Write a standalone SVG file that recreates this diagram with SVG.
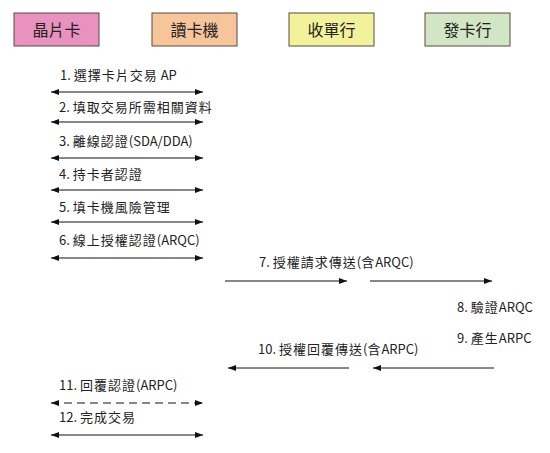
<svg xmlns="http://www.w3.org/2000/svg" width="550" height="453" viewBox="0 0 550 453">
<defs>
<marker id="ah" viewBox="0 0 8 6" refX="8" refY="3" markerWidth="8" markerHeight="6" markerUnits="userSpaceOnUse" orient="auto-start-reverse">
<path d="M0,0 L8,3 L0,6 Z" fill="#111"/>
</marker>
</defs>
<style>
.box{stroke:#5a4a40;stroke-width:1}
.hd{font-family:"Noto Sans CJK TC","Noto Sans",sans-serif;font-size:16px;fill:#222;text-anchor:middle}
.lb{font-family:"Noto Sans CJK TC","Noto Sans",sans-serif;font-size:13px;fill:#222}
.c{letter-spacing:1px}
.ln{stroke:#111;stroke-width:1;fill:none}
.bi{marker-start:url(#ah);marker-end:url(#ah)}
.fw{marker-end:url(#ah)}
.dash{stroke-dasharray:8,5}
</style>
<rect width="550" height="453" fill="#fff"/>
<g id="card"><rect class="box" x="14" y="13" width="85" height="33" fill="#E991BF"/><text class="hd" x="56.5" y="35.5">晶片卡</text></g>
<g id="reader"><rect class="box" x="152" y="13" width="85" height="33" fill="#F6C59A"/><text class="hd" x="194.5" y="35.5">讀卡機</text></g>
<g id="acquirer"><rect class="box" x="289" y="13" width="85" height="33" fill="#F2F29B"/><text class="hd" x="331.5" y="35.5">收單行</text></g>
<g id="issuer"><rect class="box" x="425" y="13" width="85" height="33" fill="#D0E6C4"/><text class="hd" x="467.5" y="35.5">發卡行</text></g>
<g id="connectors">
<line class="ln bi" x1="51" y1="92" x2="203" y2="92"/>
<line class="ln bi" x1="51" y1="122" x2="203" y2="122"/>
<line class="ln bi" x1="51" y1="158" x2="203" y2="158"/>
<line class="ln bi" x1="51" y1="190" x2="203" y2="190"/>
<line class="ln bi" x1="51" y1="222" x2="203" y2="222"/>
<line class="ln bi" x1="51" y1="258" x2="203" y2="258"/>
<line class="ln fw" x1="225" y1="281" x2="347" y2="281"/>
<line class="ln fw" x1="370" y1="281" x2="492" y2="281"/>
<line class="ln fw" x1="349" y1="368" x2="228" y2="368"/>
<line class="ln fw" x1="494" y1="368" x2="373" y2="368"/>
<line class="ln bi dash" x1="51" y1="403" x2="203" y2="403"/>
<line class="ln bi" x1="51" y1="435" x2="203" y2="435"/>
</g>
<g id="labels">
<text class="lb" x="60" y="80">1. <tspan class="c">選擇卡片交易</tspan> AP</text>
<text class="lb" x="59" y="112">2. <tspan class="c">填取交易所需相關資料</tspan></text>
<text class="lb" x="59" y="146">3. <tspan class="c">離線認證</tspan>(SDA/DDA)</text>
<text class="lb" x="59" y="179">4. <tspan class="c">持卡者認證</tspan></text>
<text class="lb" x="59" y="212">5. <tspan class="c">填卡機風險管理</tspan></text>
<text class="lb" x="59" y="245">6. <tspan class="c">線上授權認證</tspan>(ARQC)</text>
<text class="lb" x="259" y="267">7. <tspan class="c">授權請求傳送</tspan>(<tspan class="c">含</tspan>ARQC)</text>
<text class="lb" x="457" y="312">8. <tspan class="c">驗證</tspan>ARQC</text>
<text class="lb" x="457" y="343">9. <tspan class="c">產生</tspan>ARPC</text>
<text class="lb" x="258" y="354">10. <tspan class="c">授權回覆傳送</tspan>(<tspan class="c">含</tspan>ARPC)</text>
<text class="lb" x="59" y="390">11. <tspan class="c">回覆認證</tspan>(ARPC)</text>
<text class="lb" x="59" y="422">12. <tspan class="c">完成交易</tspan></text>
</g>
</svg>
